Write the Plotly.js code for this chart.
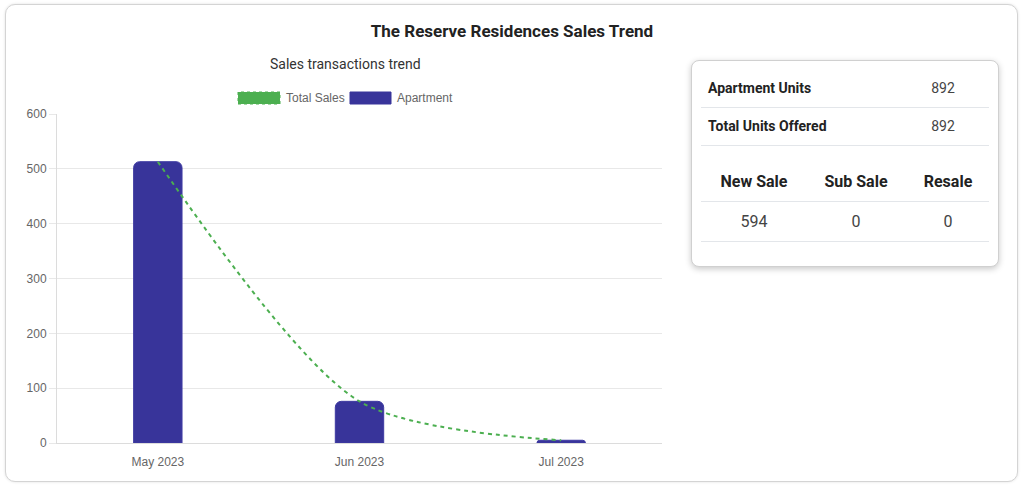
<!DOCTYPE html>
<html><head><meta charset="utf-8">
<script src="https://cdn.plot.ly/plotly-3.0.1.min.js"></script>
<style>
html,body{margin:0;padding:0;background:#fff;width:1024px;height:486px;overflow:hidden;font-family:Roboto,"Liberation Sans",sans-serif;}
#card{position:absolute;left:5px;top:4px;width:1011px;height:476px;border:1px solid #d4d4d4;border-radius:10px;box-shadow:0 0 3px rgba(0,0,0,0.12);background:#fff;}
#chart{position:absolute;left:0;top:0;width:1024px;height:486px;}
#info{position:absolute;left:691px;top:60px;width:306px;height:205px;border:1px solid #d0d0d0;border-radius:8px;box-shadow:0 2px 6px rgba(0,0,0,0.22);background:#fff;color:#222;}
.cell{position:absolute;height:20px;line-height:20px;white-space:nowrap;}
.div{position:absolute;left:9px;width:288px;height:1px;background:#e3e6ea;}
</style></head>
<body>
<div id="card"></div>
<div id="chart"></div>
<div id="info"></div>
<script>
// ---- data ----
var months = ['May 2023', 'Jun 2023', 'Jul 2023'];
var apartmentSales = [513, 76, 5];
var totalSales = [513, 76, 5];
var seriesNames = ['Total Sales', 'Apartment'];
var summaryLabels = ['Apartment Units', 'Total Units Offered'];
var summaryValues = [892, 892];
var saleTypes = ['New Sale', 'Sub Sale', 'Resale'];
var saleCounts = [594, 0, 0];

// ---- info table ----
var info = document.getElementById('info');
function add(cls, style, text){
  var d = document.createElement('div'); d.className = cls;
  d.setAttribute('style', style); if (text !== undefined) d.textContent = text;
  info.appendChild(d);
}
var rowCenters = [27, 65];
var rowDividers = [46, 84];
summaryLabels.forEach(function(l, i){
  add('cell', 'left:16px;top:' + (rowCenters[i]-10) + 'px;font-weight:700;font-size:14px;color:#222;', l);
  add('cell', 'left:211px;width:80px;text-align:center;top:' + (rowCenters[i]-10) + 'px;font-size:14px;color:#444;', String(summaryValues[i]));
  add('div', 'top:' + rowDividers[i] + 'px;');
});
var colCenters = [62, 164, 256];
saleTypes.forEach(function(t, i){
  add('cell', 'left:' + (colCenters[i]-50) + 'px;width:100px;text-align:center;top:111px;font-weight:700;font-size:16px;color:#222;', t);
  add('cell', 'left:' + (colCenters[i]-50) + 'px;width:100px;text-align:center;top:151px;font-size:16px;color:#444;', String(saleCounts[i]));
});
add('div', 'top:140px;');
add('div', 'top:180px;');

// ---- chart ----
var L = 57, R = 662, T = 114, B = 443;
function px(x){ return (x - L) / (R - L); }
function py(y){ return (B - y) / (B - T); }
var green = '#4caf50', blue = '#38349a';

var traces = [
  { type: 'bar', x: months, y: apartmentSales, name: seriesNames[1], width: 0.24,
    marker: { color: blue, cornerradius: 6, line: { color: '#3e3aa2', width: 1 } },
    showlegend: false, hoverinfo: 'skip' },
  { type: 'scatter', mode: 'lines', x: months, y: totalSales, name: seriesNames[0],
    line: { color: green, width: 2, dash: '4px,4px', shape: 'spline', smoothing: 0.8 },
    showlegend: false, hoverinfo: 'skip' }
];

var tickFont = { family: '"Liberation Sans", Arial, sans-serif', size: 12, color: '#666' };
var layout = {
  width: 1024, height: 486,
  margin: { l: L, r: 1024 - R, t: T, b: 486 - B, pad: 0 },
  paper_bgcolor: 'rgba(0,0,0,0)', plot_bgcolor: 'rgba(0,0,0,0)',
  title: { text: '<b>The Reserve Residences Sales Trend</b>', x: 0.5, xref: 'container', xanchor: 'center',
           y: 1 - 31/486, yref: 'container', yanchor: 'middle',
           font: { family: 'Roboto, sans-serif', size: 17, color: '#222' } },
  xaxis: { type: 'category', categoryorder: 'array', categoryarray: months, range: [-0.5, 2.5],
           showgrid: false, zeroline: false, showline: true, linecolor: '#dcdcdc', linewidth: 1,
           ticks: 'outside', ticklen: 8, tickcolor: 'rgba(0,0,0,0)', tickfont: tickFont },
  yaxis: { range: [0, 600], dtick: 100, tick0: 0, showgrid: true, gridcolor: '#e8e8e8', gridwidth: 1,
           zeroline: false, showline: true, linecolor: '#dcdcdc', linewidth: 1,
           ticks: 'outside', ticklen: 7, tickcolor: '#e8e8e8', tickfont: tickFont },
  bargap: 0.5,
  shapes: [
    { type: 'rect', xref: 'paper', yref: 'paper', x0: px(238), x1: px(280), y0: py(104), y1: py(92),
      fillcolor: green, line: { color: green, width: 1, dash: 'dot' } },
    { type: 'rect', xref: 'paper', yref: 'paper', x0: px(350), x1: px(391), y0: py(104), y1: py(92),
      fillcolor: blue, line: { color: blue, width: 1 } }
  ],
  annotations: [
    { text: 'Sales transactions trend', xref: 'paper', yref: 'paper', x: px(345), y: py(64),
      xanchor: 'center', yanchor: 'middle', showarrow: false,
      font: { family: 'Roboto, sans-serif', size: 14, color: '#333' } },
    { text: seriesNames[0], xref: 'paper', yref: 'paper', x: px(284), y: py(98),
      xanchor: 'left', yanchor: 'middle', showarrow: false, font: tickFont },
    { text: seriesNames[1], xref: 'paper', yref: 'paper', x: px(395), y: py(98),
      xanchor: 'left', yanchor: 'middle', showarrow: false, font: tickFont }
  ]
};
Plotly.newPlot('chart', traces, layout, { staticPlot: true, displayModeBar: false });
</script>
</body></html>
